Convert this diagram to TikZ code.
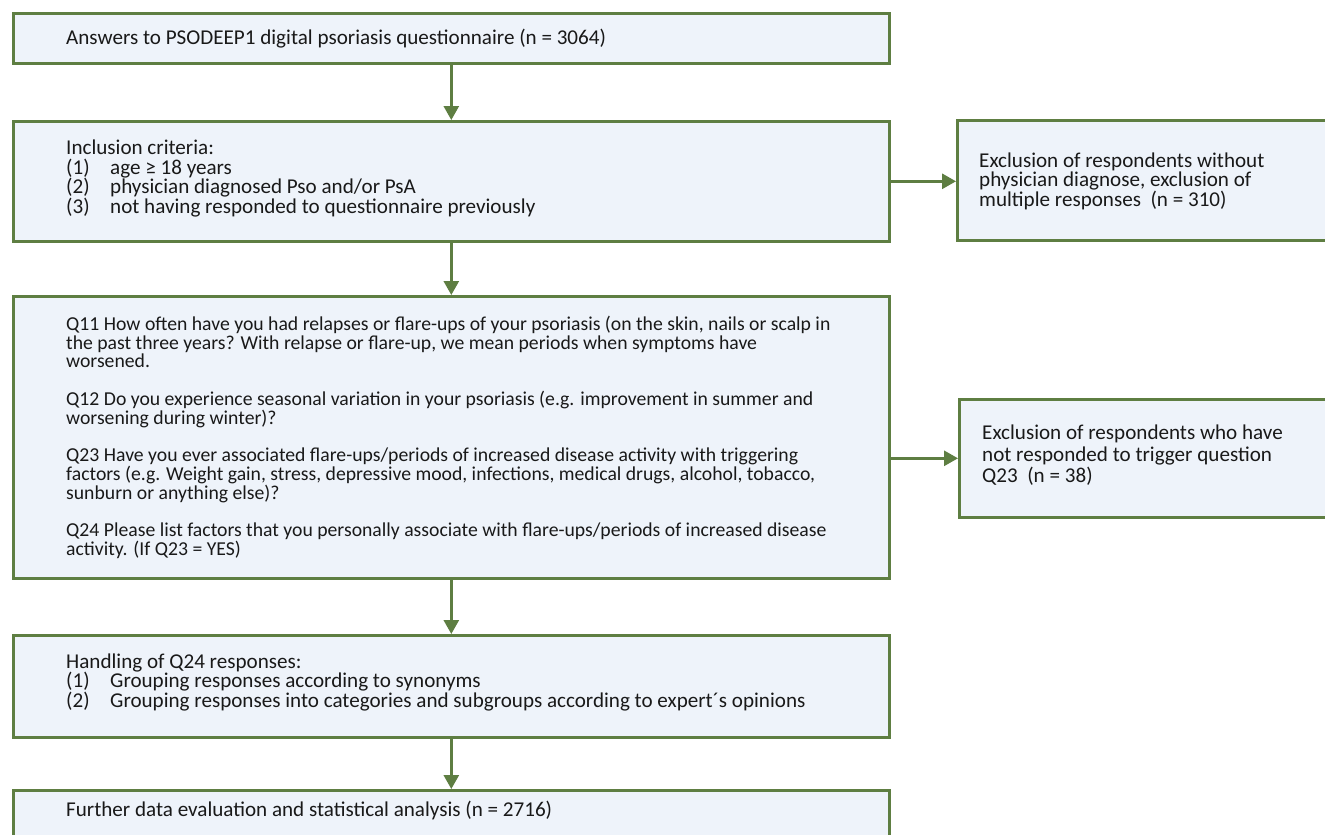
\documentclass[tikz,border=0pt]{standalone}
\usepackage{fontspec}
\setmainfont{Carlito}
\usetikzlibrary{arrows.meta,calc}
\definecolor{bordergreen}{RGB}{94,126,66}
\definecolor{boxfill}{RGB}{238,243,250}
\begin{document}
\begin{tikzpicture}[x=1pt,y=-1pt,
  box/.style={draw=bordergreen, fill=boxfill, line width=2.6pt, anchor=north west, inner sep=0pt},
  txt/.style={anchor=west, align=left, inner sep=0pt, font=\fontsize{21.1}{19.6}\selectfont, text=black!90},
  qtxt/.style={txt, font=\fontsize{19.7}{18.75}\selectfont},
  arr/.style={draw=bordergreen, line width=2.8pt, -{Triangle[width=15pt,length=14pt]}}]
\clip (0,0) rectangle (1325,835);
\fill[white] (0,0) rectangle (1325,835);
% boxes
\node[box, minimum width=876pt, minimum height=50pt] (b1) at (12,12) {};
\node[box, minimum width=876pt, minimum height=120pt] (b2) at (12,120) {};
\node[box, minimum width=440pt, minimum height=120pt] (r1) at (956,119) {};
\node[box, minimum width=876pt, minimum height=282pt] (b3) at (12,295) {};
\node[box, minimum width=440pt, minimum height=118pt] (r2) at (958,398) {};
\node[box, minimum width=876pt, minimum height=102pt] (b4) at (12,634) {};
\node[box, minimum width=876pt, minimum height=100pt] (b5) at (12,789) {};
% texts
\node[txt] (t1) at ([xshift=54pt]b1.west) {Answers to PSODEEP1 digital psoriasis questionnaire (n = 3064)};
\node[txt] (t2) at ([xshift=54pt,yshift=3pt]b2.west) {Inclusion criteria:\\
\makebox[44pt][l]{(1)}age ≥ 18 years\\
\makebox[44pt][l]{(2)}physician diagnosed Pso and/or PsA\\
\makebox[44pt][l]{(3)}not having responded to questionnaire previously};
\node[txt] (tr1) at ([xshift=23pt,yshift=-1pt]r1.west) {Exclusion of respondents without\\
physician diagnose, exclusion of\\
multiple responses~~(n = 310)};
\node[qtxt] (t3) at ([xshift=54pt]b3.west) {Q11 How often have you had relapses or flare-ups of your psoriasis (on the skin, nails or scalp in\\
the past three years? With relapse or flare-up, we mean periods when symptoms have\\
worsened.\\[18.75pt]
Q12 Do you experience seasonal variation in your psoriasis (e.g. improvement in summer and\\
worsening during winter)?\\[18.75pt]
Q23 Have you ever associated flare-ups/periods of increased disease activity with triggering\\
factors (e.g. Weight gain, stress, depressive mood, infections, medical drugs, alcohol, tobacco,\\
sunburn or anything else)?\\[18.75pt]
Q24 Please list factors that you personally associate with flare-ups/periods of increased disease\\
activity. (If Q23 = YES)};
\node[txt, font=\fontsize{21.1}{21.5}\selectfont] (tr2) at ([xshift=24pt,yshift=3pt]r2.west) {Exclusion of respondents who have\\
not responded to trigger question\\
Q23~~(n = 38)};
\node[txt] (t4) at ([xshift=54pt,yshift=4pt]b4.west) {Handling of Q24 responses:\\
\makebox[44pt][l]{(1)}Grouping responses according to synonyms\\
\makebox[44pt][l]{(2)}Grouping responses into categories and subgroups according to expert´s opinions};
\node[txt] (t5) at ($(b5.north west)+(54,21)$) {Further data evaluation and statistical analysis (n = 2716)};
% connectors
\draw[arr] (b1.south) -- (b2.north);
\draw[arr] (b2.south) -- (b3.north);
\draw[arr] (b3.south) -- (b4.north);
\draw[arr] (b4.south) -- (b5.north);
\draw[arr] (b2.east) -- (b2.east -| r1.west);
\draw[arr] (r2.west -| b3.east) -- (r2.west);
\end{tikzpicture}
\end{document}
